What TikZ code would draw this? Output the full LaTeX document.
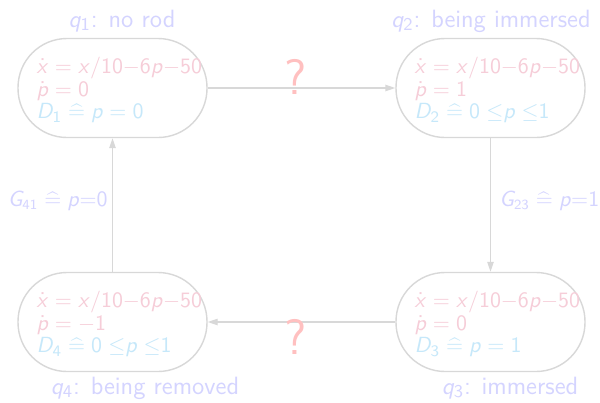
\documentclass[tikz,border=0pt]{standalone}
\usetikzlibrary{arrows.meta}

% sans-serif math: upright digits and symbols, slanted letters
\DeclareSymbolFont{sfup}{OT1}{cmss}{m}{n}
\DeclareSymbolFont{sfsl}{OT1}{cmss}{m}{sl}
\DeclareMathSymbol{0}{\mathalpha}{sfup}{`0}
\DeclareMathSymbol{1}{\mathalpha}{sfup}{`1}
\DeclareMathSymbol{2}{\mathalpha}{sfup}{`2}
\DeclareMathSymbol{3}{\mathalpha}{sfup}{`3}
\DeclareMathSymbol{4}{\mathalpha}{sfup}{`4}
\DeclareMathSymbol{5}{\mathalpha}{sfup}{`5}
\DeclareMathSymbol{6}{\mathalpha}{sfup}{`6}
\DeclareMathSymbol{7}{\mathalpha}{sfup}{`7}
\DeclareMathSymbol{8}{\mathalpha}{sfup}{`8}
\DeclareMathSymbol{9}{\mathalpha}{sfup}{`9}
\DeclareMathSymbol{x}{\mathalpha}{sfsl}{`x}
\DeclareMathSymbol{p}{\mathalpha}{sfsl}{`p}
\DeclareMathSymbol{q}{\mathalpha}{sfsl}{`q}
\DeclareMathSymbol{D}{\mathalpha}{sfsl}{`D}
\DeclareMathSymbol{G}{\mathalpha}{sfsl}{`G}
\DeclareMathSymbol{/}{\mathord}{sfup}{`/}
\DeclareMathSymbol{=}{\mathrel}{sfup}{`=}
\DeclareMathAccent{\dot}{\mathalpha}{sfup}{"5F}
\DeclareMathSizes{10.6}{10.6}{8}{6}

\definecolor{linegray}{HTML}{D8D8D8}
\definecolor{titleblue}{HTML}{D4D4FF}
\definecolor{flowpink}{HTML}{F6CDD8}
\definecolor{domcyan}{HTML}{C6E8FA}
\definecolor{qred}{HTML}{FFC0C0}

\newcommand{\defeq}{\mathrel{\widehat{=}}}
\newcommand{\mn}{{-}}

\begin{document}
\begin{tikzpicture}[x=0.5pt,y=-0.5pt,
  state/.style={draw=linegray, line width=0.7pt, rounded corners=24.5pt,
    minimum width=94.5pt, minimum height=49.5pt, inner sep=0pt},
  body/.style={anchor=west, align=left, inner sep=0pt,
    font=\sffamily\fontsize{10.6}{11.4}\selectfont},
  title/.style={text=titleblue, anchor=base, inner sep=0pt,
    font=\sffamily\fontsize{12.5}{15}\selectfont},
  guard/.style={text=titleblue, inner sep=0pt,
    font=\sffamily\fontsize{10.5}{12}\selectfont},
  unknown/.style={text=qred, inner sep=0pt,
    font=\sffamily\fontsize{25}{30}\selectfont},
  trans/.style={draw=linegray, line width=0.7pt,
    -{Triangle[length=5pt,width=3.2pt]}}]

  % canvas
  \path[fill=white] (0,0) rectangle (600,402);
  \useasboundingbox (0,0) rectangle (600,402);

  % locations
  \node[state] (q1) at (112.5,88) {};
  \node[state] (q2) at (490.5,88) {};
  \node[state] (q3) at (490.5,322) {};
  \node[state] (q4) at (112.5,322) {};

  % flows and domains
  \node[body] (b1) at ([xshift=9.5pt,yshift=-1pt]q1.west)
    {\textcolor{flowpink}{$\dot x = x/10\mn6p\mn50$}\\
     \textcolor{flowpink}{$\dot p = 0$}\\
     \textcolor{domcyan}{$D_1 \defeq p = 0$}};
  \node[body] (b2) at ([xshift=9.5pt,yshift=-1pt]q2.west)
    {\textcolor{flowpink}{$\dot x = x/10\mn6p\mn50$}\\
     \textcolor{flowpink}{$\dot p = 1$}\\
     \textcolor{domcyan}{$D_2 \defeq 0\;{\le}p\;{\le}1$}};
  \node[body] (b3) at ([xshift=9.5pt,yshift=-1pt]q3.west)
    {\textcolor{flowpink}{$\dot x = x/10\mn6p\mn50$}\\
     \textcolor{flowpink}{$\dot p = 0$}\\
     \textcolor{domcyan}{$D_3 \defeq p = 1$}};
  \node[body] (b4) at ([xshift=9.5pt,yshift=-1pt]q4.west)
    {\textcolor{flowpink}{$\dot x = x/10\mn6p\mn50$}\\
     \textcolor{flowpink}{$\dot p = -1$}\\
     \textcolor{domcyan}{$D_4 \defeq 0\;{\le}p\;{\le}1$}};

  % location names
  \node[title] (n1) at (122,27) {$q_1$: no rod};
  \node[title] (n2) at (491,27) {$q_2$: being immersed};
  \node[title] (n3) at (510,394) {$q_3$: immersed};
  \node[title] (n4) at (145,394) {$q_4$: being removed};

  % transitions
  \draw[trans] (q1.east) -- (q2.west);
  \draw[trans] (q2.south) -- (q3.north);
  \draw[trans] (q3.west) -- (q4.east);
  \draw[trans] (q4.north) -- (q1.south);

  % guards
  \node[guard, anchor=east] (g41) at (108,201) {$G_{41} \defeq p{=}0$};
  \node[guard, anchor=west] (g23) at (499,201) {$G_{23} \defeq p{=}1$};
  \node[unknown] (u12) at (296,77) {?};
  \node[unknown] (u34) at (296,337) {?};
\end{tikzpicture}
\end{document}
